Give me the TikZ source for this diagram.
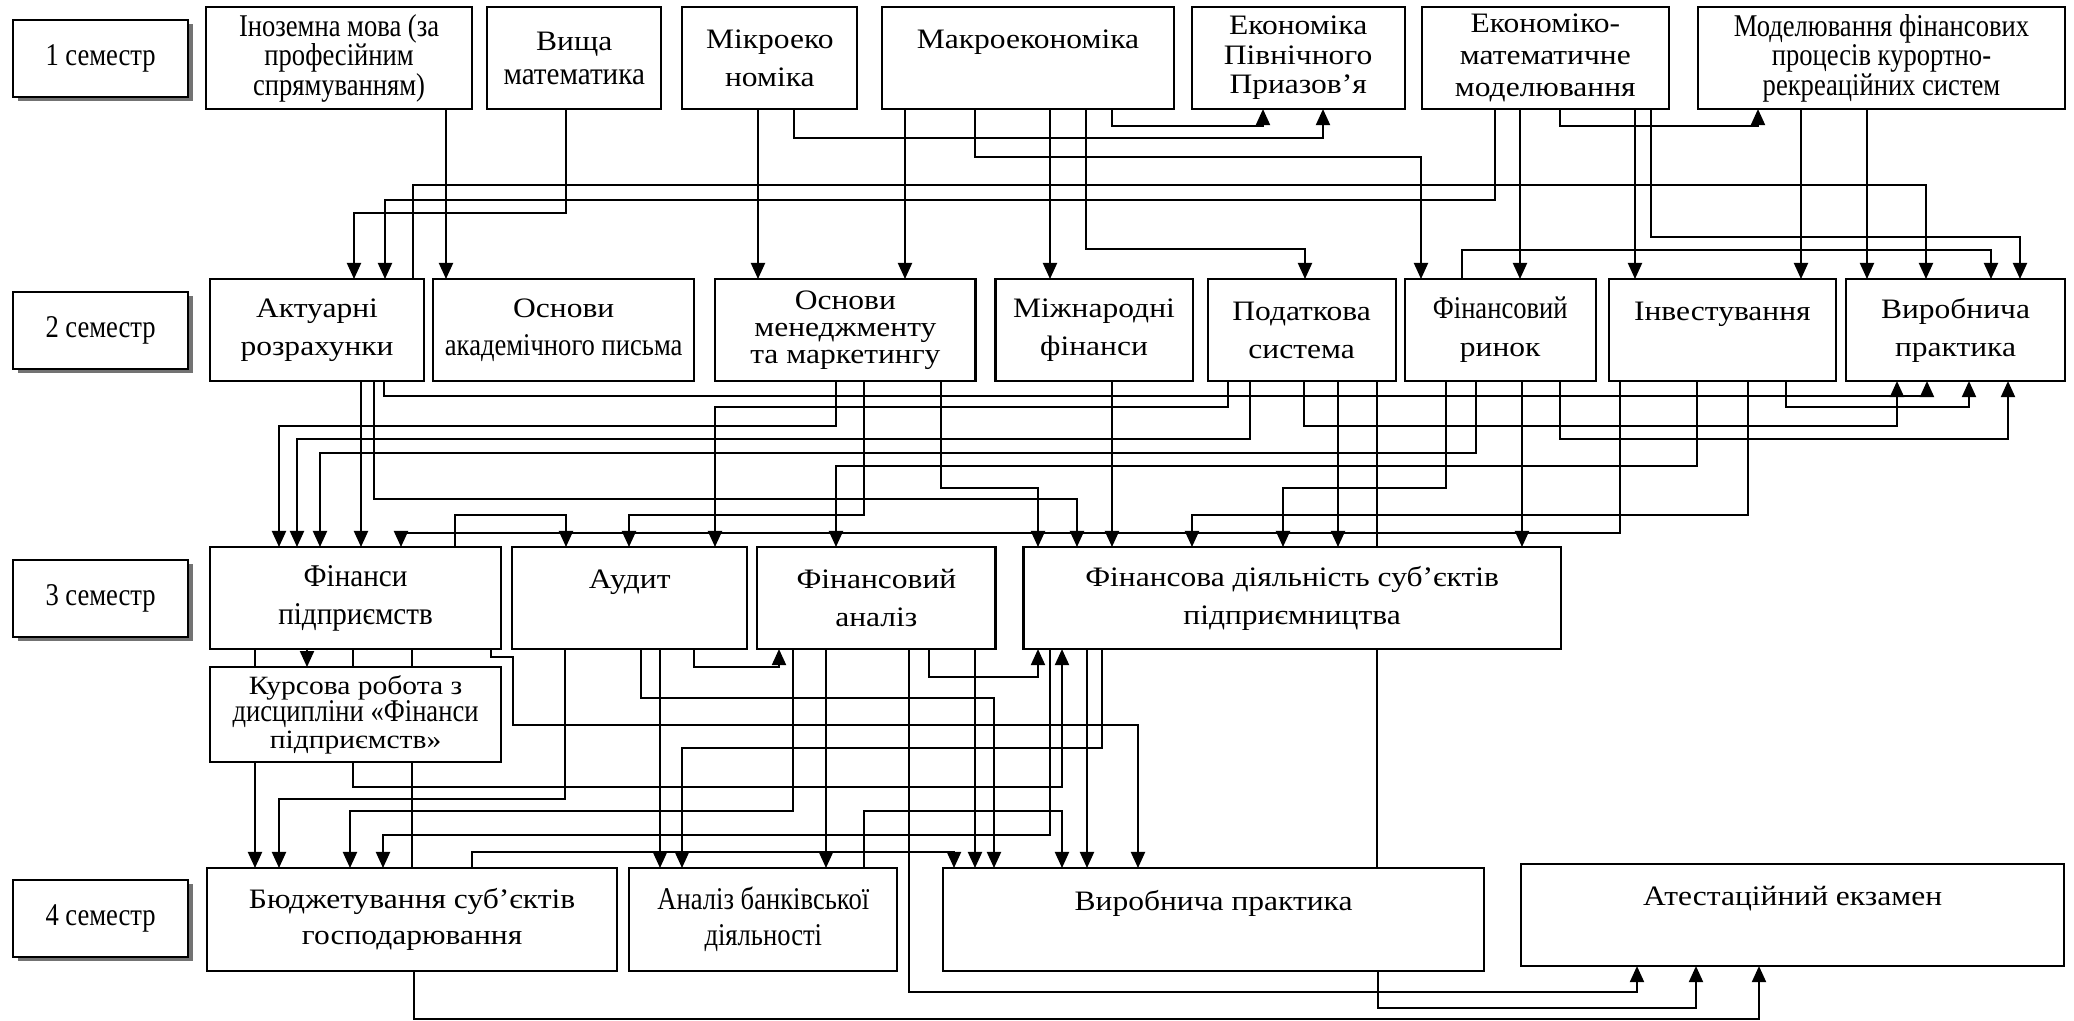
\documentclass[tikz,border=0pt]{standalone}
\usepackage{fontspec}
\setmainfont{Liberation Serif}[FakeStretch=1.12]
\newfontfamily\narrow{Liberation Serif}[FakeStretch=0.84]
\newfontfamily\semi{Liberation Serif}[FakeStretch=0.92]
\usetikzlibrary{positioning,arrows.meta,shadows}

\tikzset{
  subj/.style={draw, line width=0.6pt, fill=white, align=center, inner sep=1pt,
    outer sep=0pt, minimum height=1.02cm, font=\fontsize{8}{10.8}\selectfont},
  lead/.style={font=\fontsize{8}{#1}\selectfont},
  nlead/.style={font=\narrow\fontsize{9}{#1}\selectfont},
  sem/.style={draw, line width=0.6pt, fill=white, minimum width=1.75cm,
    minimum height=0.77cm, anchor=north west, font=\narrow\fontsize{9}{10.8}\selectfont,
    drop shadow={shadow xshift=0.05cm, shadow yshift=-0.04cm, fill=black!55, opacity=1}},
}

\begin{document}
\begin{tikzpicture}[x=0.01cm, y=-0.01cm, line width=0.55pt,
    >={Triangle[length=0.16cm,width=0.14cm]}]
    \useasboundingbox (0,0) rectangle (2074,1021);

    % semesters
    \node[sem] (s1) at (12,19) {1 семестр};
    \node[sem] (s2) at (12,291) {2 семестр};
    \node[sem] (s3) at (12,559) {3 семестр};
    \node[sem] (s4) at (12,879) {4 семестр};

    % 1 semester
    \node[subj, nlead=8.4, minimum width=2.66cm, anchor=north west] (inoz) at (206,7) {Іноземна мова (за\\професійним\\спрямуванням)};
    \node[subj, lead=9.7, minimum width=1.74cm, right=0.15cm of inoz] (vyshcha) {Вища\\{\semi\fontsize{9}{9.7}\selectfont математика}};
    \node[subj, minimum width=1.75cm, right=0.21cm of vyshcha] (mikro) {Мікроеко\\номіка};
    \node[subj, minimum width=2.91cm, right=0.25cm of mikro] (makro) {Макроекономіка\\\phantom{М}};
    \node[subj, lead=8.4, minimum width=2.13cm, right=0.18cm of makro] (ekpiv) {Економіка\\Північного\\Приазов’я};
    \node[subj, lead=9.1, minimum width=2.47cm, right=0.17cm of ekpiv] (ekmat) {Економіко-\\математичне\\моделювання};
    \node[subj, nlead=8.4, minimum width=3.67cm, right=0.29cm of ekmat] (model) {Моделювання фінансових\\процесів курортно-\\рекреаційних систем};

    % 2 semester
    \node[subj, minimum width=2.14cm, anchor=north west] (aktuar) at (210,279) {Актуарні\\розрахунки};
    \node[subj, minimum width=2.61cm, right=0.09cm of aktuar] (osnakad) {Основи\\{\narrow\fontsize{9}{10.8}\selectfont академічного письма}};
    \node[subj, lead=7.7, minimum width=2.60cm, right=0.21cm of osnakad] (osnmen) {Основи\\менеджменту\\та маркетингу};
    \node[subj, minimum width=1.97cm, right=0.20cm of osnmen] (mizhn) {Міжнародні\\фінанси};
    \node[subj, minimum width=1.88cm, right=0.15cm of mizhn] (podat) {Податкова\\система};
    \node[subj, minimum width=1.91cm, right=0.09cm of podat] (finrynok) {{\narrow\fontsize{9}{10.8}\selectfont Фінансовий}\\ринок};
    \node[subj, minimum width=2.27cm, right=0.13cm of finrynok] (invest) {Інвестування\\\phantom{І}};
    \node[subj, minimum width=2.19cm, right=0.10cm of invest] (vp2) {Виробнича\\практика};

    % 3 semester
    \node[subj, font=\semi\fontsize{9}{10.8}\selectfont, minimum width=2.91cm, anchor=north west] (finpid) at (210,547) {Фінанси\\підприємств};
    \node[subj, minimum width=2.35cm, right=0.11cm of finpid] (audyt) {Аудит\\\phantom{А}};
    \node[subj, minimum width=2.38cm, right=0.10cm of audyt] (finan) {Фінансовий\\аналіз};
    \node[subj, minimum width=5.37cm, right=0.28cm of finan] (findiyal) {Фінансова діяльність суб’єктів\\підприємництва};
    \node[subj, font=\fontsize{7.5}{7.7}\selectfont, minimum width=2.91cm, minimum height=0.95cm, below=0.18cm of finpid] (kurs) {Курсова робота з\\{\narrow\fontsize{9}{7.7}\selectfont дисципліни «Фінанси}\\підприємств»};

    % 4 semester
    \node[subj, lead=10.2, minimum width=4.10cm, minimum height=1.03cm, anchor=north west] (budzh) at (207,868) {Бюджетування суб’єктів\\господарювання};
    \node[subj, nlead=10.2, minimum width=2.68cm, minimum height=1.03cm, right=0.12cm of budzh] (analbank) {Аналіз банківської\\діяльності};
    \node[subj, minimum width=5.40cm, minimum height=1.03cm, right=0.46cm of analbank] (vp4) {Виробнича практика\\\phantom{В}};
    \node[subj, minimum width=5.43cm, anchor=north west] (atest) at (1521,864) {Атестаційний екзамен\\\phantom{А}};

    % straight links
    \path[->]
    (446,0 |- inoz.south) edge (446,0 |- osnakad.north)
    (758,0 |- mikro.south) edge (758,0 |- osnmen.north)
    (905,0 |- makro.south) edge (905,0 |- osnmen.north)
    (1050,0 |- makro.south) edge (1050,0 |- mizhn.north)
    (1520,0 |- ekmat.south) edge (1520,0 |- finrynok.north)
    (1635,0 |- ekmat.south) edge (1635,0 |- invest.north)
    (1801,0 |- model.south) edge (1801,0 |- invest.north)
    (1867,0 |- model.south) edge (1867,0 |- vp2.north)
    (361,0 |- aktuar.south) edge (361,0 |- finpid.north)
    (1112,0 |- mizhn.south) edge (1112,0 |- findiyal.north)
    (1338,0 |- podat.south) edge (1338,0 |- findiyal.north)
    (1522,0 |- finrynok.south) edge (1522,0 |- findiyal.north)
    (307,0 |- finpid.south) edge (307,0 |- kurs.north)
    (255,0 |- kurs.south) edge (255,0 |- budzh.north)
    (660,0 |- audyt.south) edge (660,0 |- analbank.north)
    (826,0 |- finan.south) edge (826,0 |- analbank.north)
    (975,0 |- finan.south) edge (975,0 |- vp4.north)
    (1087,0 |- findiyal.south) edge (1087,0 |- vp4.north);

    % lines passing through boxes
    \draw (255,0 |- finpid.south) -- (255,0 |- kurs.north);
    \draw (353,0 |- finpid.south) -- (353,0 |- kurs.north);
    \draw (412,0 |- finpid.south) -- (412,0 |- kurs.north);
    \draw (412,0 |- kurs.south) -- (412,0 |- budzh.north);
    \draw (1377,0 |- podat.south) -- (1377,0 |- findiyal.north);
    \draw (1377,0 |- findiyal.south) -- (1377,0 |- vp4.north);

    % 1 -> 2
    \draw[->] (566,0 |- vyshcha.south) |- (354,213) -- (354,0 |- aktuar.north);
    \draw[->] (413,0 |- aktuar.north) |- (1926,185) -- (1926,0 |- vp2.north);
    \draw[->] (1495,0 |- ekmat.south) |- (385,200) -- (385,0 |- aktuar.north);
    \draw[->] (794,0 |- mikro.south) |- (1323,138) -- (1323,0 |- ekpiv.south);
    \draw[->] (975,0 |- makro.south) |- (1421,157) -- (1421,0 |- finrynok.north);
    \draw[->] (1086,0 |- makro.south) |- (1305,249) -- (1305,0 |- podat.north);
    \draw[->] (1112,0 |- makro.south) |- (1263,126) -- (1263,0 |- ekpiv.south);
    \draw[->] (1560,0 |- ekmat.south) |- (1758,126) -- (1758,0 |- model.south);
    \draw[->] (1651,0 |- ekmat.south) |- (2020,237) -- (2020,0 |- vp2.north);
    \draw[->] (1462,0 |- finrynok.north) |- (1991,250) -- (1991,0 |- vp2.north);

    % 2 -> 3
    \draw[->] (374,0 |- aktuar.south) |- (1077,499) -- (1077,0 |- findiyal.north);
    \draw[->] (384,0 |- aktuar.south) |- (1927,396) -- (1927,0 |- vp2.south);
    \draw[->] (836,0 |- osnmen.south) |- (279,426) -- (279,0 |- finpid.north);
    \draw[->] (864,0 |- osnmen.south) |- (629,515) -- (629,0 |- audyt.north);
    \draw[->] (941,0 |- osnmen.south) |- (1038,488) -- (1038,0 |- findiyal.north);
    \draw[->] (1228,0 |- podat.south) |- (715,407) -- (715,0 |- audyt.north);
    \draw[->] (1250,0 |- podat.south) |- (297,439) -- (297,0 |- finpid.north);
    \draw[->] (1304,0 |- podat.south) |- (1897,426) -- (1897,0 |- vp2.south);
    \draw[->] (1446,0 |- finrynok.south) |- (1283,488) -- (1283,0 |- findiyal.north);
    \draw[->] (1476,0 |- finrynok.south) |- (320,453) -- (320,0 |- finpid.north);
    \draw[->] (1560,0 |- finrynok.south) |- (2008,439) -- (2008,0 |- vp2.south);
    \draw[->] (1620,0 |- invest.south) |- (401,533) -- (401,0 |- finpid.north);
    \draw[->] (1697,0 |- invest.south) |- (836,466) -- (836,0 |- finan.north);
    \draw[->] (1748,0 |- invest.south) |- (1192,515) -- (1192,0 |- findiyal.north);
    \draw[->] (1786,0 |- invest.south) |- (1969,407) -- (1969,0 |- vp2.south);
    \draw[->] (455,0 |- finpid.north) |- (566,515) -- (566,0 |- audyt.north);

    % 3 -> 4
    \draw[->] (353,0 |- kurs.south) |- (1062,787) -- (1062,0 |- findiyal.south);
    \draw[->] (491,0 |- finpid.south) |- (513,657) |- (1138,725) -- (1138,0 |- vp4.north);
    \draw[->] (565,0 |- audyt.south) |- (279,799) -- (279,0 |- budzh.north);
    \draw[->] (641,0 |- audyt.south) |- (994,698) -- (994,0 |- vp4.north);
    \draw[->] (694,0 |- audyt.south) |- (779,667) -- (779,0 |- finan.south);
    \draw[->] (793,0 |- finan.south) |- (350,811) -- (350,0 |- budzh.north);
    \draw[->] (929,0 |- finan.south) |- (1038,677) -- (1038,0 |- findiyal.south);
    \draw[->] (1050,0 |- findiyal.south) |- (383,835) -- (383,0 |- budzh.north);
    \draw[->] (1102,0 |- findiyal.south) |- (682,748) -- (682,0 |- analbank.north);
    \draw[->] (864,0 |- analbank.north) |- (1062,811) -- (1062,0 |- vp4.north);
    \draw[->] (472,0 |- budzh.north) |- (954,852) -- (954,0 |- vp4.north);

    % 4 -> exam
    \draw[->] (909,0 |- finan.south) |- (1637,992) -- (1637,0 |- atest.south);
    \draw[->] (1378,0 |- vp4.south) |- (1696,1008) -- (1696,0 |- atest.south);
    \draw[->] (414,0 |- budzh.south) |- (1759,1019) -- (1759,0 |- atest.south);
\end{tikzpicture}
\end{document}
